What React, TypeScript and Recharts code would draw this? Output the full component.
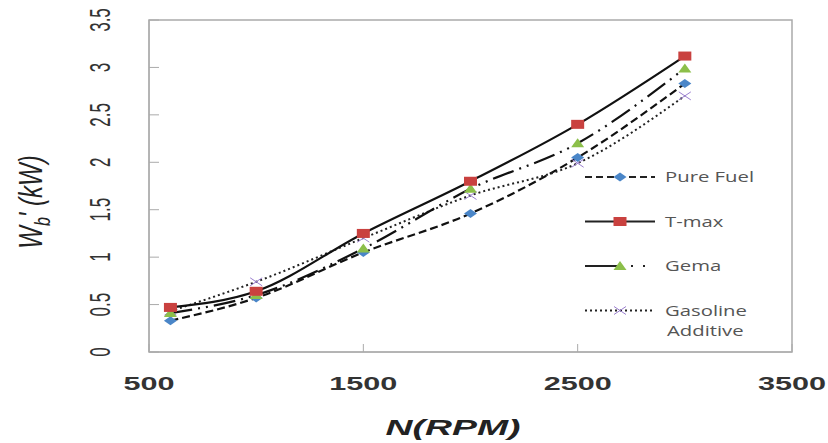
import { LineChart, Line, XAxis, YAxis, ReferenceArea } from 'recharts';

const rpm = [600, 1000, 1500, 2000, 2500, 3000];
const pureFuel = [0.33, 0.57, 1.05, 1.46, 2.05, 2.83];
const tMax = [0.47, 0.64, 1.25, 1.8, 2.4, 3.12];
const gema = [0.41, 0.6, 1.09, 1.72, 2.2, 2.99];
const gasolineAdditive = [0.43, 0.74, 1.2, 1.65, 1.99, 2.7];
const xTicks = [500, 1500, 2500, 3500];
const yTicks = [0, 0.5, 1, 1.5, 2, 2.5, 3, 3.5];

const data = rpm.map((n, i) => ({
	n,
	pure: pureFuel[i],
	tmax: tMax[i],
	gema: gema[i],
	gas: gasolineAdditive[i]
}));

// the source image is stretched sideways, so glyphs get a horizontal scale
const STRETCH = 1.7;

const Diamond = (p: any) => (
	<path d={`M${p.cx},${p.cy - 4.5}L${p.cx + 6.5},${p.cy}L${p.cx},${p.cy + 4.5}L${p.cx - 6.5},${p.cy}Z`} fill='#4a86c8' />
);
const Square = (p: any) => <rect x={p.cx - 6.5} y={p.cy - 4.5} width={13} height={9} fill='#c9413f' />;
const Triangle = (p: any) => (
	<path d={`M${p.cx},${p.cy - 5}L${p.cx + 6.5},${p.cy + 4}L${p.cx - 6.5},${p.cy + 4}Z`} fill='#8cbf4a' />
);
const Cross = (p: any) => (
	<path d={`M${p.cx - 6},${p.cy - 4}L${p.cx + 6},${p.cy + 4}M${p.cx - 6},${p.cy + 4}L${p.cx + 6},${p.cy - 4}`} stroke='#9b7fd0' strokeWidth={1} />
);

const legendRows = [
	{ label: ['Pure Fuel'], dash: '7 4', mark: Diamond },
	{ label: ['T-max'], dash: undefined, mark: Square },
	{ label: ['Gema'], dash: undefined, mark: Triangle, gema: true },
	{ label: ['Gasoline', 'Additive'], dash: '2 3', mark: Cross }
];

// legend drawn straight into the svg so it does not take room from the plot
const LegendBox = () => (
	<g transform='translate(585 165)'>
		{legendRows.map((r, i) => {
			const y = 12 + i * 44.5;
			return (
				<g key={i}>
					{r.gema ? (
						<g>
							<line x1={0} y1={y} x2={38} y2={y} stroke='#222' strokeWidth={2} />
							<line x1={46} y1={y} x2={48} y2={y} stroke='#222' strokeWidth={2} />
							<line x1={58} y1={y} x2={60} y2={y} stroke='#222' strokeWidth={2} />
						</g>
					) : (
						<line x1={0} y1={y} x2={70} y2={y} stroke='#222' strokeWidth={2} strokeDasharray={r.dash} />
					)}
					{r.mark({ cx: 35, cy: y })}
					{r.label.map((t, j) => (
						<text
							key={j}
							transform={`translate(${j === 0 ? 80 : 82} ${y + 5 + j * 20}) scale(1.45 1)`}
							fontSize={14}
							fill='#555'
							fontFamily='Open Sans'
						>
							{t}
						</text>
					))}
				</g>
			);
		})}
	</g>
);

const YTick = (p: any) => (
	<text
		transform={`translate(${p.x + 1} ${p.y}) rotate(-90) scale(1 ${STRETCH})`}
		textAnchor='middle'
		dy={6}
		fontSize={17}
		fill='#333'
		fontFamily='Liberation Sans'
	>
		{p.payload.value}
	</text>
);

const XTick = (p: any) => (
	<text
		transform={`translate(${p.x} 390) scale(${STRETCH} 1)`}
		textAnchor='middle'
		fontSize={18}
		fontWeight='bold'
		fill='#333'
		fontFamily='Liberation Sans'
	>
		{p.payload.value}
	</text>
);

export default function App() {
	return (
		<div style={{ position: 'absolute', left: 0, top: 0, width: 828, height: 443, background: '#fff' }}>
			<LineChart width={828} height={443} data={data} margin={{ top: 20, right: 36, left: 89, bottom: 51 }}>
				<XAxis
					dataKey='n'
					type='number'
					domain={[500, 3500]}
					ticks={xTicks}
					interval={0}
					tick={<XTick />}
					tickSize={-8}
					height={40}
					stroke='#aaa'
				/>
				<YAxis
					type='number'
					domain={[0, 3.5]}
					ticks={yTicks}
					interval={0}
					tick={<YTick />}
					tickSize={-10}
					tickMargin={60}
					width={60}
					stroke='#aaa'
				/>
				<ReferenceArea x1={500} x2={3500} y1={0} y2={3.5} fill='none' stroke='#aaa' strokeWidth={1.5} />
				<Line type='monotone' dataKey='pure' stroke='#111' strokeWidth={2.2} strokeDasharray='8 4' dot={<Diamond />} isAnimationActive={false} />
				<Line type='monotone' dataKey='gas' stroke='#222' strokeWidth={2} strokeDasharray='2 3' dot={<Cross />} isAnimationActive={false} />
				<Line type='monotone' dataKey='gema' stroke='#111' strokeWidth={2.2} strokeDasharray='22 6 2 6 2 6' dot={<Triangle />} isAnimationActive={false} />
				<Line type='monotone' dataKey='tmax' stroke='#111' strokeWidth={2.2} dot={<Square />} isAnimationActive={false} />
				<LegendBox />
				<text
					transform='translate(42 202) rotate(-90) scale(1 1.35)'
					textAnchor='middle'
					fontSize={24}
					fontStyle='italic'
					fill='#222'
					fontFamily='Liberation Sans'
				>
					W<tspan fontSize={16} dy={6}>b</tspan>
					<tspan dy={-6}>{"' (kW)"}</tspan>
				</text>
				<text
					transform={`translate(453 435) scale(${STRETCH} 1)`}
					textAnchor='middle'
					fontSize={22}
					fontStyle='italic'
					fontWeight='bold'
					fill='#222'
					fontFamily='Liberation Sans'
				>
					N(RPM)
				</text>
			</LineChart>
		</div>
	);
}
